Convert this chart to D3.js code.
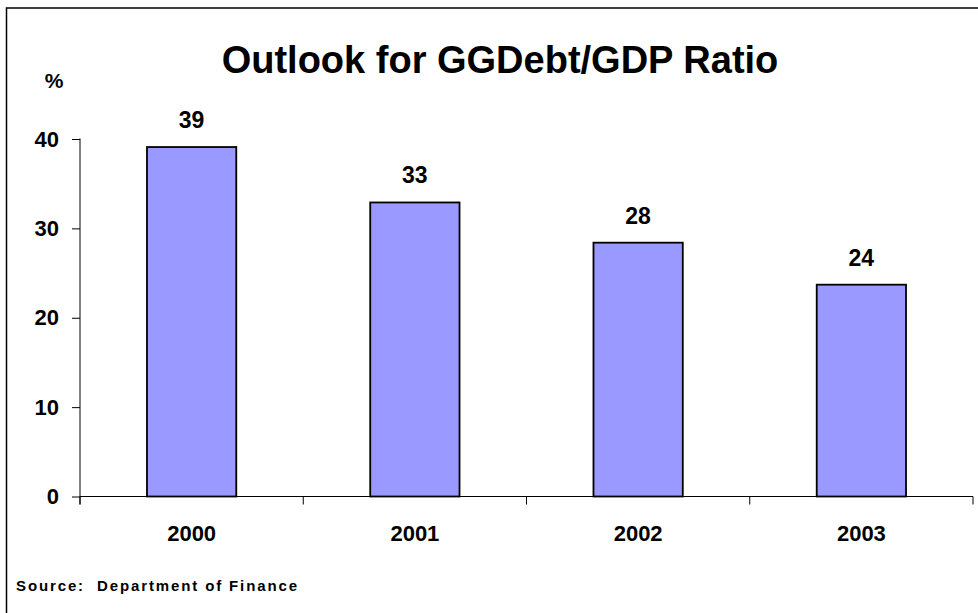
<!DOCTYPE html>
<html>
<head>
<meta charset="utf-8">
<script src="https://cdn.jsdelivr.net/npm/d3@7"></script>
<style>
  html, body { margin: 0; padding: 0; background: #fff; }
  svg { display: block; font-family: "Liberation Sans", Arial, sans-serif; }
</style>
</head>
<body>
<svg id="chart" width="978" height="613"></svg>
<script>
const categories = ["2000", "2001", "2002", "2003"];
const values = [39.1, 32.9, 28.4, 23.7];
const valueLabels = ["39", "33", "28", "24"];
const yTicks = [0, 10, 20, 30, 40];
const title = "Outlook for GGDebt/GDP Ratio";
const yUnit = "%";
const source = "Source:  Department of Finance";

(function () {
const svg = d3.select("#chart");
const W = 978, H = 613;
const pLeft = 80, pRight = 973, pTop = 139, pBottom = 496.5;

// frame lines (top and left)
svg.append("path")
  .attr("d", `M6.5,${H} L6.5,8 L${W},8`)
  .attr("fill", "none").attr("stroke", "#000").attr("stroke-width", 1.5);

const x = d3.scaleBand().domain(categories).range([pLeft, pRight]).padding(0);
const y = d3.scaleLinear().domain([0, 40]).range([pBottom, pTop]);

// bars
const barW = x.bandwidth() * 0.4;
svg.selectAll("rect.bar").data(categories).enter().append("rect")
  .attr("class", "bar")
  .attr("x", d => x(d) + x.bandwidth() / 2 - barW / 2)
  .attr("y", (d, i) => y(values[i]))
  .attr("width", barW)
  .attr("height", (d, i) => y(0) - y(values[i]))
  .attr("fill", "#9999FF")
  .attr("stroke", "#000")
  .attr("stroke-width", 1.8);

// value labels
svg.selectAll("text.val").data(categories).enter().append("text")
  .attr("class", "val")
  .attr("x", d => x(d) + x.bandwidth() / 2)
  .attr("y", (d, i) => y(values[i]) - 19)
  .attr("text-anchor", "middle")
  .attr("font-size", 23).attr("font-weight", "bold")
  .text((d, i) => valueLabels[i]);

// y axis
const yAxis = d3.axisLeft(y).tickValues(yTicks).tickSize(8).tickPadding(13).tickFormat(d3.format("d"));
const gy = svg.append("g").attr("transform", `translate(${pLeft},0)`).call(yAxis);
gy.select(".domain").attr("d", `M0,${pTop - 0.5}V${pBottom + 8}`).attr("stroke", "#000");
gy.selectAll(".tick line").attr("stroke", "#000");
gy.selectAll(".tick text")
  .attr("font-size", 22).attr("font-weight", "bold")
  .attr("font-family", "Liberation Sans, Arial, sans-serif").attr("fill", "#000");

// x axis
const xAxis = d3.axisBottom(x).tickSize(0).tickPadding(0);
const gx = svg.append("g").attr("transform", `translate(0,${pBottom})`).call(xAxis);
gx.select(".domain").attr("d", `M${pLeft},0H${pRight}`).attr("stroke", "#000");
gx.selectAll(".tick text")
  .attr("y", 44.5).attr("dy", 0)
  .attr("font-size", 22).attr("font-weight", "bold")
  .attr("font-family", "Liberation Sans, Arial, sans-serif").attr("fill", "#000");
// category separator ticks
const sepPos = categories.map(d => x(d)).concat([pRight]);
gx.selectAll("line.sep").data(sepPos).enter().append("line")
  .attr("class", "sep")
  .attr("x1", d => d).attr("x2", d => d)
  .attr("y1", 0).attr("y2", 8)
  .attr("stroke", "#000");

// title
svg.append("text")
  .attr("x", 500).attr("y", 73)
  .attr("text-anchor", "middle")
  .attr("font-size", 38).attr("font-weight", "bold")
  .text(title);

// unit
svg.append("text")
  .attr("x", 54).attr("y", 88)
  .attr("text-anchor", "middle")
  .attr("font-size", 21).attr("font-weight", "bold")
  .text(yUnit);

// source
svg.append("text")
  .attr("x", 16).attr("y", 591)
  .attr("font-size", 15).attr("font-weight", "bold")
  .attr("textLength", 281).attr("lengthAdjust", "spacing")
  .attr("xml:space", "preserve")
  .style("white-space", "pre")
  .text(source);
})();
</script>
</body>
</html>
